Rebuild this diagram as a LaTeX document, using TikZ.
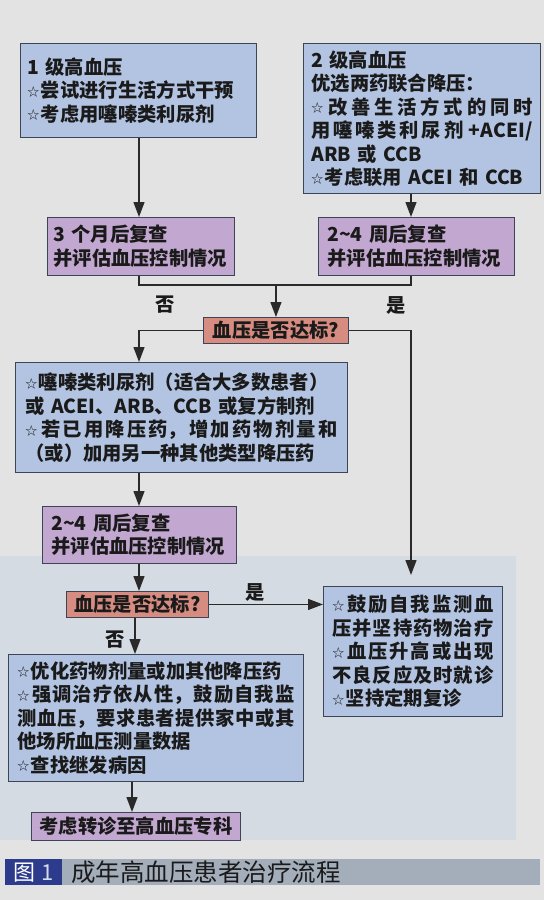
\documentclass[tikz,border=0pt]{standalone}
\usepackage{fontspec}
\setmainfont{Noto Sans CJK SC}
\usetikzlibrary{arrows.meta}
\definecolor{paper}{HTML}{E3E3E3}
\definecolor{paperb}{HTML}{D5DBE2}
\definecolor{blueF}{HTML}{B3C4E2}
\definecolor{purpF}{HTML}{C2A8D0}
\definecolor{redF}{HTML}{D68C80}
\definecolor{edgec}{HTML}{3C4556}
\definecolor{linec}{HTML}{2A2A2A}
\definecolor{ink}{HTML}{1A1A1A}
\definecolor{capblue}{HTML}{2C3B8C}
\definecolor{capgray}{HTML}{A4AEBA}
\newcommand\bodyfont{\fontsize{19.3}{23.5}\selectfont\bfseries}
\newcommand\st{\raisebox{1.5pt}{\fontsize{12}{12}\selectfont\mdseries ☆}\hspace{1.5pt}}
\newcommand\hf{\hfil}
\newcommand\sline[1]{\leavevmode\hbox to\hsize{#1}}
\tikzset{
  box/.style={draw=edgec, line width=0.9pt, anchor=north west, align=left,
    inner ysep=0pt, font=\bodyfont, text=ink},
  bluebox/.style={box, fill=blueF},
  purplebox/.style={box, fill=purpF},
  decbox/.style={draw=edgec, line width=0.9pt, fill=redF, anchor=north west,
    align=center, inner sep=0pt, font=\bodyfont, text=ink},
  lbl/.style={font=\bodyfont, text=ink, inner sep=0pt},
  ln/.style={draw=linec, line width=1.3pt},
  arr/.style={ln, -{Triangle[length=15pt,width=11pt]}}
}
\begin{document}
\begin{tikzpicture}[x=1pt,y=-1pt]
\useasboundingbox (0,0) rectangle (544,900);
\fill[paper] (0,0) rectangle (544,900);
\fill[paperb] (0,556) rectangle (516,840);

% row 1
\node[bluebox, minimum width=236pt, minimum height=94pt, inner xsep=7pt, text width=222pt] (b1) at (20,43)
  {1 级高血压\\ \st 尝试进行生活方式干预\\ \st 考虑用噻嗪类利尿剂};
\node[bluebox, minimum width=237pt, minimum height=150pt, inner xsep=8pt, text width=221pt] (b2) at (303,43)
  {2 级高血压\\
   优选两药联合降压：\\
   \sline{\st\hf 改\hf 善\hf 生\hf 活\hf 方\hf 式\hf 的\hf 同\hf 时}\\
   \sline{用\hf 噻\hf 嗪\hf 类\hf 利\hf 尿\hf 剂\hf\hf +ACEI/}\\
   ARB 或 CCB\\
   \st 考虑联用 ACEI 和 CCB};

% row 2
\node[purplebox, minimum width=187pt, minimum height=58pt, inner xsep=6pt, text width=175pt] (b3) at (47,217)
  {3 个月后复查\\ 并评估血压控制情况};
\node[purplebox, minimum width=196pt, minimum height=58pt, inner xsep=9pt, text width=178pt] (b4) at (318,217)
  {2\textasciitilde 4 周后复查\\ 并评估血压控制情况};

\node[decbox, minimum width=145pt, minimum height=26pt] (d1) at (203,317) {血压是否达标?};

\node[bluebox, minimum width=332pt, minimum height=110pt, inner xsep=10pt, text width=312pt] (b5) at (15,362)
  {\st 噻嗪类利尿剂（适合大多数患者）\\
   或 ACEI、ARB、CCB 或复方制剂\\
   \sline{\st\hf 若\hf 已\hf 用\hf 降\hf 压\hf 药，\hf 增\hf 加\hf 药\hf 物\hf 剂\hf 量\hf 和}\\
   （或）加用另一种其他类型降压药};

\node[purplebox, minimum width=194pt, minimum height=57pt, inner xsep=9pt, text width=176pt] (b6) at (42,506)
  {2\textasciitilde 4 周后复查\\ 并评估血压控制情况};

\node[decbox, minimum width=142pt, minimum height=26pt] (d2) at (66,591) {血压是否达标?};

\node[bluebox, minimum width=179pt, minimum height=130pt, inner xsep=9pt, text width=161pt] (b7) at (323,586)
  {\sline{\st\hf 鼓\hf 励\hf 自\hf 我\hf 监\hf 测\hf 血}\\
   \sline{压\hf 并\hf 坚\hf 持\hf 药\hf 物\hf 治\hf 疗}\\
   \sline{\st\hf 血\hf 压\hf 升\hf 高\hf 或\hf 出\hf 现}\\
   \sline{不\hf 良\hf 反\hf 应\hf 及\hf 时\hf 就\hf 诊}\\
   \st 坚持定期复诊};

\node[bluebox, minimum width=295pt, minimum height=127pt, inner xsep=9pt, text width=277pt] (b8) at (8,654)
  {\st 优化药物剂量或加其他降压药\\
   \sline{\st\hf 强\hf 调\hf 治\hf 疗\hf 依\hf 从\hf 性，\hf 鼓\hf 励\hf 自\hf 我\hf 监}\\
   \sline{测\hf 血\hf 压，\hf 要\hf 求\hf 患\hf 者\hf 提\hf 供\hf 家\hf 中\hf 或\hf 其}\\
   他场所血压测量数据\\
   \st 查找继发病因};

\node[purplebox, minimum width=209pt, minimum height=28pt, inner xsep=5pt, align=center] (b9) at (31,812)
  {考虑转诊至高血压专科};

% labels
\node[lbl] (no1) at (165,305) {否};
\node[lbl] (yes1) at (396,305) {是};
\node[lbl] (yes2) at (255,592) {是};
\node[lbl] (no2) at (115,640) {否};

% caption
\node[fill=capblue, anchor=north west, minimum width=57pt, minimum height=26pt, inner sep=0pt,
      font=\fontsize{22}{22}\selectfont] (cap1) at (5,859)
  {\textcolor{white}{图}\hspace{6pt}\textcolor{blueF!60!white}{1}};
\node[fill=capgray, anchor=north west, minimum width=478pt, minimum height=26pt, inner xsep=9pt, inner ysep=0pt,
      text width=460pt, align=left, text=ink, font=\fontsize{24.5}{25}\selectfont] (cap2) at (62,859)
  {成年高血压患者治疗流程};

% connectors
\coordinate (lx) at (139,0);
\coordinate (rx) at (411,0);
\coordinate (lx2) at (135,0);
\coordinate (lx3) at (132,0);
\coordinate (jy) at (0,285);
\coordinate (j) at (d1.north |- jy);
\draw[arr] (b1.south -| lx) -- (b3.north -| lx);
\draw[arr] (b2.south -| rx) -- (b4.north -| rx);
\draw[ln] (b3.south -| lx) |- (j) -| (b4.south -| rx);
\draw[arr] (j) -- (d1.north);
\draw[arr] (d1.west) -| (b5.north -| lx);
\draw[arr, shorten >=11pt] (d1.east) -| (b7.north -| rx);
\draw[arr] (b5.south -| lx) -- (b6.north -| lx);
\draw[arr] (b6.south -| lx) -- (d2.north -| lx);
\draw[arr] (d2.east) -- (b7.west |- d2.east);
\draw[arr] (d2.south -| lx2) -- (b8.north -| lx2);
\draw[arr] (b8.south -| lx3) -- (b9.north -| lx3);
\end{tikzpicture}
\end{document}
